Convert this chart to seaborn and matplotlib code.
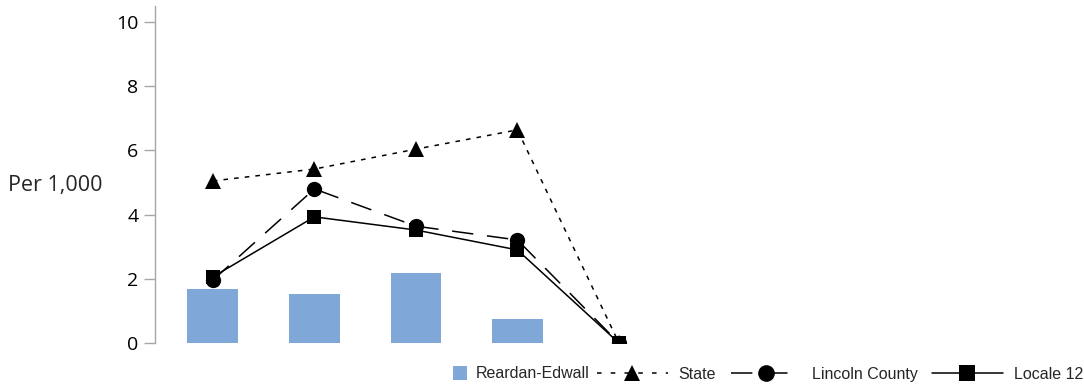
import matplotlib
matplotlib.use("Agg")
import matplotlib.pyplot as plt
import seaborn as sns
import pandas as pd
import numpy as np
from matplotlib.lines import Line2D

categories = ["C1", "C2", "C3", "C4", "C5"]
reardan = [1.68, 1.53, 2.18, 0.75, 0.0]
state = [5.05, 5.42, 6.04, 6.64, 0.0]
lincoln = [1.96, 4.80, 3.64, 3.21, 0.0]
locale = [2.06, 3.93, 3.52, 2.90, 0.0]
yticks = [0, 2, 4, 6, 8, 10]

sns.set_theme(style="white")
plt.rcParams["font.family"] = ["Open Sans", "DejaVu Sans"]

fig = plt.figure(figsize=(10.84, 3.86), dpi=100)
W, H = 1084, 386
x0, x1 = 155, 1075
ytop, ybot = 6, 343
ax = fig.add_axes([x0 / W, (H - ybot) / H, (x1 - x0) / W, (ybot - ytop) / H])

df = pd.DataFrame({"cat": categories, "Reardan-Edwall": reardan,
                   "State": state, "Lincoln County": lincoln, "Locale 12": locale})
df["x"] = np.arange(len(categories))

sns.barplot(data=df, x="x", y="Reardan-Edwall", native_scale=True, color="#7fa7d8",
            saturation=1, width=0.5, linewidth=0, ax=ax)

sns.lineplot(data=df, x="x", y="State", color="black", linewidth=1.1,
             marker="^", markersize=11, markeredgewidth=0, ax=ax)
ax.lines[-1].set_dashes([3, 4])
sns.lineplot(data=df, x="x", y="Lincoln County", color="black", linewidth=1.1,
             marker="o", markersize=11, markeredgewidth=0, ax=ax)
ax.lines[-1].set_dashes([14, 9])
sns.lineplot(data=df, x="x", y="Locale 12", color="black", linewidth=1.1,
             marker="s", markersize=10, markeredgewidth=0, ax=ax)

ax.set_xlim(-0.57, (x1 - 213) / 101.5)
ax.set_ylim(0, 10.5)
ax.set_yticks(yticks)
ax.set_yticklabels([str(v) for v in yticks], fontsize=14)
ax.set_xticks([])
ax.set_xlabel("")
ax.set_ylabel("")
for s in ["top", "right", "bottom"]:
    ax.spines[s].set_visible(False)
ax.spines["left"].set_color("#a6a6a6")
ax.spines["left"].set_linewidth(1)
ax.tick_params(axis="y", left=True, length=8, width=1, color="#a6a6a6", pad=4,
               labelcolor="black")

fig.text(8 / W, 1 - 186 / H, "Per 1,000", fontsize=15.5, va="center", ha="left")

legprop = {"family": "Liberation Sans", "size": 11.5}
h_bar = [Line2D([], [], color="#7fa7d8", lw=0, marker="s", markersize=10.5, markeredgewidth=0)]
leg1 = fig.legend(h_bar, ["Reardan-Edwall"], loc="center left",
                  bbox_to_anchor=(452 / W, 1 - 374 / H), frameon=False,
                  handlelength=1.0, handletextpad=0.5, borderaxespad=0, borderpad=0,
                  prop=legprop)

handles = [
    Line2D([], [], color="black", lw=1.1, dashes=[3, 6], marker="^", markersize=12, markeredgewidth=0),
    Line2D([], [], color="black", lw=1.1, dashes=[14, 9], marker="o", markersize=12, markeredgewidth=0),
    Line2D([], [], color="black", lw=1.1, marker="s", markersize=11, markeredgewidth=0),
]
labels = ["State", "Lincoln County", "Locale 12"]
fig.legend(handles, labels, loc="center right", bbox_to_anchor=(1083 / W, 1 - 374 / H),
           ncol=3, frameon=False, handlelength=4.4, handleheight=0.9, handletextpad=0.7,
           columnspacing=0.9, borderaxespad=0, borderpad=0, prop=legprop)

fig.savefig("out.png", dpi=100)
